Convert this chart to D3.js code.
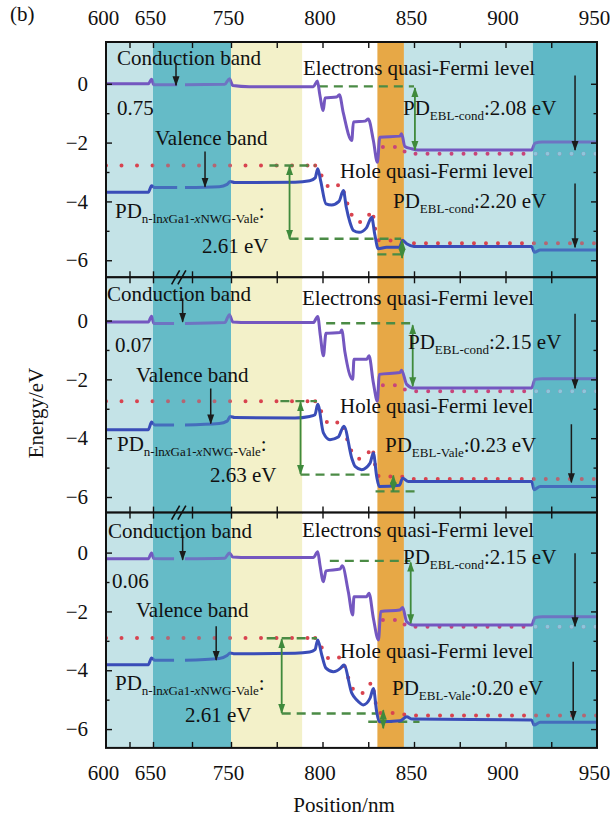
<!DOCTYPE html>
<html>
<head>
<meta charset="utf-8">
<script src="https://cdn.jsdelivr.net/npm/d3@7"></script>
<style>
  body { margin: 0; background: #fff; }
  svg text { font-family: "Liberation Serif", "Times New Roman", serif; fill: #111; }
</style>
</head>
<body>
<div id="chart"></div>
<script>
// ---- data (position in nm, energy in eV) ----
const xTicks = [600, 650, 750, 800, 850, 900, 950];
const xInner = [625, 650, 700, 750, 775, 800, 825, 850, 875, 900, 925];
const yTicks = [0, -2, -4, -6];
const yMinor = [-1, -3, -5];

const regions = [[600, 650], [650, 750], [750, 789], [789, 830], [830, 844.5], [844.5, 915], [915, 950]];
const regionColors = ['#c4e3e7', '#68bcc8', '#f3f1c9', '#ffffff', '#e7a846', '#c3e3e7', '#5fb8c6'];
const tealRegions = [[650, 750], [915, 950]];

// conduction band
const cb1 = [[600, 0], [645, 0], [648.5, 0.15], [651, -0.03], [681, -0.03], [686, null], [691, -0.03], [742, -0.02], [748, 0.17], [751, -0.06], [760, -0.1], [795, -0.1], [797.2, 0.09], [798.6, -0.4], [800.4, -0.91], [801.4, -0.48], [807.7, -0.45], [809.2, -0.37], [811.4, -1.0], [816, -1.93], [816.9, -1.3], [823.2, -1.27], [825, -1.2], [827.8, -1.93], [830, -2.67], [831.3, -1.82], [842.3, -1.78], [843.2, -1.7], [845, -2.13], [848.7, -2.21], [852, -2.25], [914.3, -2.25], [916.1, -2.02], [920, -1.98], [950, -1.98]];
const cb2 = [[600, -0.05], [645, -0.05], [648.5, 0.15], [651, -0.1], [677, -0.1], [684, null], [691, -0.1], [742, -0.07], [748, 0.2], [751, -0.05], [760, -0.07], [795, -0.07], [797.4, 0.14], [798.8, -0.5], [800.5, -1.2], [801.9, -0.43], [809.6, -0.41], [810.5, -0.32], [812.3, -1.09], [816.5, -2.0], [817.2, -1.32], [824.1, -1.32], [825.4, -1.2], [827.8, -2.12], [830, -2.74], [831, -1.83], [842.3, -1.77], [843.2, -1.69], [846, -2.17], [849.6, -2.29], [914.3, -2.29], [916.1, -2.0], [920, -1.98], [950, -1.98]];
const cb3 = [[600, -0.21], [645, -0.21], [648.5, -0.01], [651, -0.2], [677, -0.21], [684, null], [691, -0.21], [742, -0.19], [748, -0.01], [751, -0.15], [760, -0.17], [795, -0.17], [797.4, 0.03], [798.6, -0.42], [800.5, -0.99], [801.9, -0.62], [809.6, -0.56], [810.8, -0.45], [814.1, -1.33], [816.5, -2.12], [817.2, -1.5], [824.1, -1.5], [825.4, -1.38], [827.8, -2.23], [830.6, -2.97], [831.8, -2.0], [842.3, -1.95], [843.8, -1.87], [846, -2.35], [849.6, -2.46], [914.3, -2.46], [916.1, -2.21], [920, -2.18], [950, -2.18]];

// valence band
const vb1 = [[600, -3.69], [645, -3.69], [648.5, -3.47], [652, -3.53], [681, -3.53], [686, null], [691, -3.53], [735, -3.5], [745, -3.42], [749, -3.32], [752, -3.36], [785, -3.35], [793, -3.3], [796, -3.2], [797.4, -2.89], [799, -3.3], [801.9, -4.08], [805, -4.12], [809, -4.0], [811.4, -3.63], [813, -4.2], [815, -4.71], [816.9, -4.99], [820, -5.05], [824, -4.9], [826.9, -4.54], [828.5, -5.1], [830.5, -5.61], [835, -5.56], [842, -5.56], [843.8, -5.33], [846, -5.44], [850, -5.53], [914.3, -5.53], [915.8, -5.73], [919, -5.65], [950, -5.65]];
const vb2 = [[600, -3.71], [645, -3.71], [648.5, -3.45], [652, -3.55], [677, -3.55], [684, null], [691, -3.55], [735, -3.5], [745, -3.42], [749, -3.26], [752, -3.3], [785, -3.31], [793, -3.26], [795.9, -3.2], [797.4, -2.85], [800.5, -3.82], [804.1, -4.05], [808.6, -3.96], [811.7, -3.59], [816, -4.68], [817.8, -4.96], [821.4, -5.07], [826, -4.85], [827.8, -4.5], [829.6, -5.3], [831, -5.64], [842, -5.6], [843.8, -5.36], [846.9, -5.47], [914.3, -5.47], [915.6, -5.75], [918.9, -5.64], [950, -5.64]];
const vb3 = [[600, -3.81], [645, -3.81], [648.5, -3.58], [652, -3.66], [677, -3.66], [684, null], [691, -3.66], [735, -3.6], [745, -3.5], [749, -3.41], [752, -3.44], [785, -3.42], [793, -3.38], [795.9, -3.3], [797.4, -2.97], [799.6, -3.48], [801.9, -3.93], [805.9, -4.05], [809.9, -3.93], [811.7, -3.82], [816, -4.78], [818.7, -5.01], [822.3, -5.18], [826, -4.95], [827.8, -4.62], [829.6, -5.41], [831, -5.75], [842.3, -5.72], [846, -5.58], [849, -5.66], [914.3, -5.69], [915.6, -5.86], [918.9, -5.77], [950, -5.77]];

// hole quasi-Fermi level (dotted)
const hf1 = [[600, -2.78], [796, -2.78], [799, -3.05], [801.5, -3.4], [806, -3.55], [810, -3.4], [812, -3.75], [815.5, -4.4], [820, -4.7], [825, -4.5], [827, -4.3], [829, -5.0], [831, -5.33], [843, -5.33], [846, -5.42], [950, -5.42]];
const hf2 = [[600, -2.74], [796, -2.74], [799, -3.05], [801.5, -3.4], [806, -3.55], [810, -3.4], [812, -3.75], [815.5, -4.4], [820, -4.7], [825, -4.5], [827, -4.3], [829, -5.0], [831, -5.3], [843, -5.3], [846, -5.39], [950, -5.39]];
const hf3 = [[600, -2.9], [796, -2.9], [799, -3.15], [801.5, -3.5], [806, -3.65], [810, -3.55], [812, -3.85], [815.5, -4.5], [820, -4.8], [825, -4.6], [827, -4.4], [829, -5.1], [831, -5.45], [843, -5.45], [846, -5.54], [950, -5.54]];
// dotted level under the conduction band
const ed1 = [[833, -2.15], [843, -2.15], [846, -2.38], [950, -2.38]];
const ed2 = [[833, -2.2], [843, -2.2], [846, -2.4], [950, -2.4]];
const ed3 = [[833, -2.29], [843, -2.29], [846, -2.52], [950, -2.52]];

// green dashed levels
const gd1 = [[[798, -0.09], [850, -0.09]], [[771, -2.78], [796, -2.78]], [[782, -5.27], [843, -5.27]], [[830, -5.8], [846, -5.8]]];
const gd2 = [[[802, -0.09], [849, -0.09]], [[777, -2.74], [797, -2.74]], [[788, -5.24], [830, -5.24]], [[829, -5.81], [853, -5.81]]];
const gd3 = [[[804, -0.28], [848, -0.28]], [[769.5, -2.91], [797, -2.91]], [[777.7, -5.47], [830, -5.47]], [[825, -5.75], [853, -5.75]]];
// green double arrows
const ga1 = [[[850.5, -0.14], [850.5, -2.25]], [[782, -2.8], [782, -5.27]], [[843.5, -5.33], [843.5, -5.92]]];
const ga2 = [[[849.3, -0.16], [849.3, -2.23]], [[788, -2.78], [788, -5.22]], [[838.7, -5.27], [838.7, -5.81]]];
const ga3 = [[[848.2, -0.34], [848.2, -2.4]], [[777.7, -2.95], [777.7, -5.45]], [[833.2, -5.36], [833.2, -5.97]]];
// black pointer arrows
const ba1 = [[[679.5, 0.69], [679.5, -0.05]], [[716.7, -2.3], [716.7, -3.5]], [[938, 0.28], [938, -2.25]], [[938, -3.39], [938, -5.56]]];
const ba2 = [[[688, 0.76], [688, -0.04]], [[724, -2.31], [724, -3.5]], [[938, 0.23], [938, -2.3]], [[936, -3.53], [936, -5.5]]];
const ba3 = [[[688, 0.61], [688, -0.24]], [[731, -2.5], [731, -3.65]], [[938, -0.02], [938, -2.5]], [[937, -3.71], [937, -5.68]]];

// labels
const gapLabels = ['0.75', '0.07', '0.06'];
const wgLabels = ['2.61 eV', '2.63 eV', '2.61 eV'];
const eblTopSub = ['EBL-cond', 'EBL-cond', 'EBL-cond'];
const eblTopVal = [':2.08 eV', ':2.15 eV', ':2.15 eV'];
const eblBotSub = ['EBL-cond', 'EBL-Vale', 'EBL-Vale'];
const eblBotVal = [':2.20 eV', ':0.23 eV', ':0.20 eV'];

const cbs = [cb1, cb2, cb3], vbs = [vb1, vb2, vb3];
const hfs = [hf1, hf2, hf3], eds = [ed1, ed2, ed3];
const gds = [gd1, gd2, gd3], gas = [ga1, ga2, ga3], bas = [ba1, ba2, ba3];

// ---- layout ----
const W = 610, H = 818;
const left = 106, right = 597, panelTop = 42, panelH = 235.3;
const yDomains = [[-6.58, 1.42], [-6.53, 1.47], [-6.64, 1.36]];
const flatEnd = 796; // where the hole level leaves its flat part
// text positions relative to each panel's top edge
const textPos = [
  { cond: [117, 23], gap: [117, 73], vale: [155, 103], pdn: [115, 176], wg: [202, 211], elec: [303, 33], eblT: [403, 73], hole: [340, 136], eblB: [393, 166] },
  { cond: [107, 24], gap: [115, 75], vale: [136, 105], pdn: [117, 174], wg: [210, 205], elec: [302, 28], eblT: [408, 72], hole: [340, 136], eblB: [385, 175] },
  { cond: [108, 25], gap: [112, 75], vale: [136, 104], pdn: [115, 177], wg: [185, 209], elec: [302, 24], eblT: [403, 51], hole: [340, 145], eblB: [392, 182] }
];
const fs = 21, subFs = 13;

const x = d3.scaleLinear().domain([600, 650, 750, 950]).range([left, 153, 231, right]);

const svg = d3.select('#chart').append('svg').attr('width', W).attr('height', H);
const defs = svg.append('defs');

function marker(id, color, size) {
  defs.append('marker')
    .attr('id', id)
    .attr('viewBox', '0 0 10 10')
    .attr('refX', 9).attr('refY', 5)
    .attr('markerWidth', size).attr('markerHeight', size)
    .attr('markerUnits', 'userSpaceOnUse')
    .attr('orient', 'auto-start-reverse')
    .append('path')
    .attr('d', 'M0,1.5 L10,5 L0,8.5 Z')
    .attr('fill', color);
}
marker('arrBlack', '#1b1b1b', 10);
marker('arrGreen', '#3f8a3c', 10);

function pdText(g, pos, top, subParts, tail) {
  const t = g.append('text').attr('x', pos[0]).attr('y', top + pos[1]).attr('font-size', fs);
  t.append('tspan').text('PD');
  subParts.forEach((s, k) => {
    const sp = t.append('tspan').attr('font-size', subFs).text(s.text);
    if (k === 0) sp.attr('dy', 5);
    if (s.italic) sp.attr('font-style', 'italic');
  });
  t.append('tspan').attr('dy', -5).attr('font-size', fs).text(tail);
}

function dotted(sel, d, color, gap) {
  return sel.append('path').attr('d', d)
    .attr('fill', 'none').attr('stroke', color).attr('stroke-width', 4)
    .attr('stroke-linecap', 'round').attr('stroke-dasharray', `0 ${gap}`);
}

cbs.forEach((cb, i) => {
  const top = panelTop + i * panelH;
  const y = d3.scaleLinear().domain(yDomains[i]).range([top + panelH, top]);
  const line = d3.line()
    .defined(d => d[1] !== null)
    .x(d => x(d[0]))
    .y(d => y(d[1]))
    .curve(d3.curveMonotoneX);
  const straight = d3.line().x(d => x(d[0])).y(d => y(d[1]));

  const clipId = `clip${i}`;
  defs.append('clipPath').attr('id', clipId)
    .append('rect').attr('x', left).attr('y', top).attr('width', right - left).attr('height', panelH);
  const tealClip = `teal${i}`;
  defs.append('clipPath').attr('id', tealClip)
    .append('rect').attr('x', x(915)).attr('y', top).attr('width', right - x(915)).attr('height', panelH);

  const g = svg.append('g');
  const plot = g.append('g').attr('clip-path', `url(#${clipId})`);

  plot.selectAll('rect.reg')
    .data(regions)
    .join('rect')
    .attr('class', 'reg')
    .attr('x', d => x(d[0]))
    .attr('width', d => x(d[1]) - x(d[0]))
    .attr('y', top)
    .attr('height', panelH)
    .attr('fill', (d, j) => regionColors[j]);

  // dotted quasi-Fermi levels: wider spacing on the flat left part
  dotted(plot, line(hfs[i].filter(d => d[0] <= flatEnd)), '#d8434f', 15.5);
  dotted(plot, line(hfs[i].filter(d => d[0] >= flatEnd)), '#d8434f', 12);
  dotted(plot, line(eds[i]), '#c8457a', 12);

  // green dashed levels
  plot.selectAll('path.gd')
    .data(gds[i])
    .join('path')
    .attr('class', 'gd')
    .attr('d', straight)
    .attr('fill', 'none').attr('stroke', '#4b8b45').attr('stroke-width', 2.4)
    .attr('stroke-dasharray', '9 6');

  // bands
  plot.append('path').attr('d', line(cb))
    .attr('fill', 'none').attr('stroke', '#7457c0').attr('stroke-width', 3)
    .attr('stroke-linejoin', 'round');
  plot.append('path').attr('d', line(vbs[i]))
    .attr('fill', 'none').attr('stroke', '#3a4db8').attr('stroke-width', 3)
    .attr('stroke-linejoin', 'round');

  // teal layers are semi-transparent over the curves
  plot.selectAll('rect.tint')
    .data(tealRegions)
    .join('rect')
    .attr('class', 'tint')
    .attr('x', d => x(d[0]))
    .attr('width', d => x(d[1]) - x(d[0]))
    .attr('y', top)
    .attr('height', panelH)
    .attr('fill', '#5fb8c6')
    .attr('opacity', 0.3);
  // the level under the conduction band shows light blue inside the right teal layer
  dotted(plot.append('g').attr('clip-path', `url(#${tealClip})`), line(eds[i]), '#8ec6dc', 12);

  // arrows
  plot.selectAll('path.ga')
    .data(gas[i])
    .join('path')
    .attr('class', 'ga')
    .attr('d', straight)
    .attr('stroke', '#3f8a3c').attr('stroke-width', 1.8)
    .attr('marker-start', 'url(#arrGreen)').attr('marker-end', 'url(#arrGreen)');
  plot.selectAll('path.ba')
    .data(bas[i])
    .join('path')
    .attr('class', 'ba')
    .attr('d', straight)
    .attr('stroke', '#1b1b1b').attr('stroke-width', 1.5)
    .attr('marker-end', 'url(#arrBlack)');

  // texts
  const p = textPos[i];
  const tg = g.append('g').attr('font-size', fs);
  tg.append('text').attr('x', p.cond[0]).attr('y', top + p.cond[1]).text('Conduction band');
  tg.append('text').attr('x', p.gap[0]).attr('y', top + p.gap[1]).text(gapLabels[i]);
  tg.append('text').attr('x', p.vale[0]).attr('y', top + p.vale[1]).text('Valence band');
  pdText(tg, p.pdn, top, [
    { text: 'n-ln' }, { text: 'x', italic: true }, { text: 'Ga1-' }, { text: 'x', italic: true }, { text: 'NWG-Vale' }
  ], ':');
  tg.append('text').attr('x', p.wg[0]).attr('y', top + p.wg[1]).text(wgLabels[i]);
  tg.append('text').attr('x', p.elec[0]).attr('y', top + p.elec[1]).text('Electrons quasi-Fermi level');
  pdText(tg, p.eblT, top, [{ text: eblTopSub[i] }], eblTopVal[i]);
  tg.append('text').attr('x', p.hole[0]).attr('y', top + p.hole[1]).text('Hole quasi-Fermi level');
  pdText(tg, p.eblB, top, [{ text: eblBotSub[i] }], eblBotVal[i]);

  // axes (ticks point inward)
  const yLeft = g.append('g').attr('transform', `translate(${left},0)`)
    .call(d3.axisLeft(y).tickValues(yTicks).tickSizeInner(-6).tickSizeOuter(0).tickPadding(18)
      .tickFormat(d => d === 0 ? '0' : '\u2212' + Math.abs(d)));
  yLeft.selectAll('text').attr('font-size', fs).attr('font-family', null);
  g.append('g').attr('transform', `translate(${left},0)`)
    .call(d3.axisLeft(y).tickValues(yMinor).tickSize(-3.5).tickFormat(''));
  g.append('g').attr('transform', `translate(${right},0)`)
    .call(d3.axisRight(y).tickValues(yTicks).tickSize(-6).tickFormat(''));
  g.append('g').attr('transform', `translate(${right},0)`)
    .call(d3.axisRight(y).tickValues(yMinor).tickSize(-3.5).tickFormat(''));
  g.append('g').attr('transform', `translate(0,${top + panelH})`)
    .call(d3.axisBottom(x).tickValues(xInner).tickSize(-6).tickFormat(''));
  g.append('g').attr('transform', `translate(0,${top})`)
    .call(d3.axisTop(x).tickValues(xInner).tickSize(-6).tickFormat(''));
  g.selectAll('.domain').remove();
  g.selectAll('.tick line').attr('stroke', '#111').attr('stroke-width', 1.4);

  g.append('rect')
    .attr('x', left).attr('y', top).attr('width', right - left).attr('height', panelH)
    .attr('fill', 'none').attr('stroke', '#111').attr('stroke-width', 2);
});

// axis break marks on the inner panel borders
[1, 2].forEach(i => {
  const yb = panelTop + i * panelH;
  [x(679), x(687)].forEach(xb => {
    svg.append('line')
      .attr('x1', xb - 4).attr('y1', yb + 7).attr('x2', xb + 4).attr('y2', yb - 7)
      .attr('stroke', '#111').attr('stroke-width', 1.6);
  });
});

// x tick labels, top and bottom
const topAxis = svg.append('g').attr('transform', `translate(0,${panelTop})`)
  .call(d3.axisTop(x).tickValues(xTicks).tickSize(0).tickPadding(17).tickFormat(d3.format('d')));
const botAxis = svg.append('g').attr('transform', `translate(0,${panelTop + 3 * panelH})`)
  .call(d3.axisBottom(x).tickValues(xTicks).tickSize(0).tickPadding(17).tickFormat(d3.format('d')));
[topAxis, botAxis].forEach(a => {
  a.select('.domain').remove();
  a.selectAll('text').attr('font-size', fs).attr('font-family', null).attr('fill', '#111')
    .attr('transform', 'translate(-3,0)');
});

svg.append('text').attr('x', 10).attr('y', 21).attr('font-size', fs).text('(b)');
svg.append('text')
  .attr('transform', 'translate(43,413) rotate(-90)')
  .attr('text-anchor', 'middle')
  .attr('font-size', fs)
  .text('Energy/eV');
svg.append('text')
  .attr('x', 344).attr('y', 812)
  .attr('text-anchor', 'middle')
  .attr('font-size', fs)
  .text('Position/nm');
</script>
</body>
</html>
